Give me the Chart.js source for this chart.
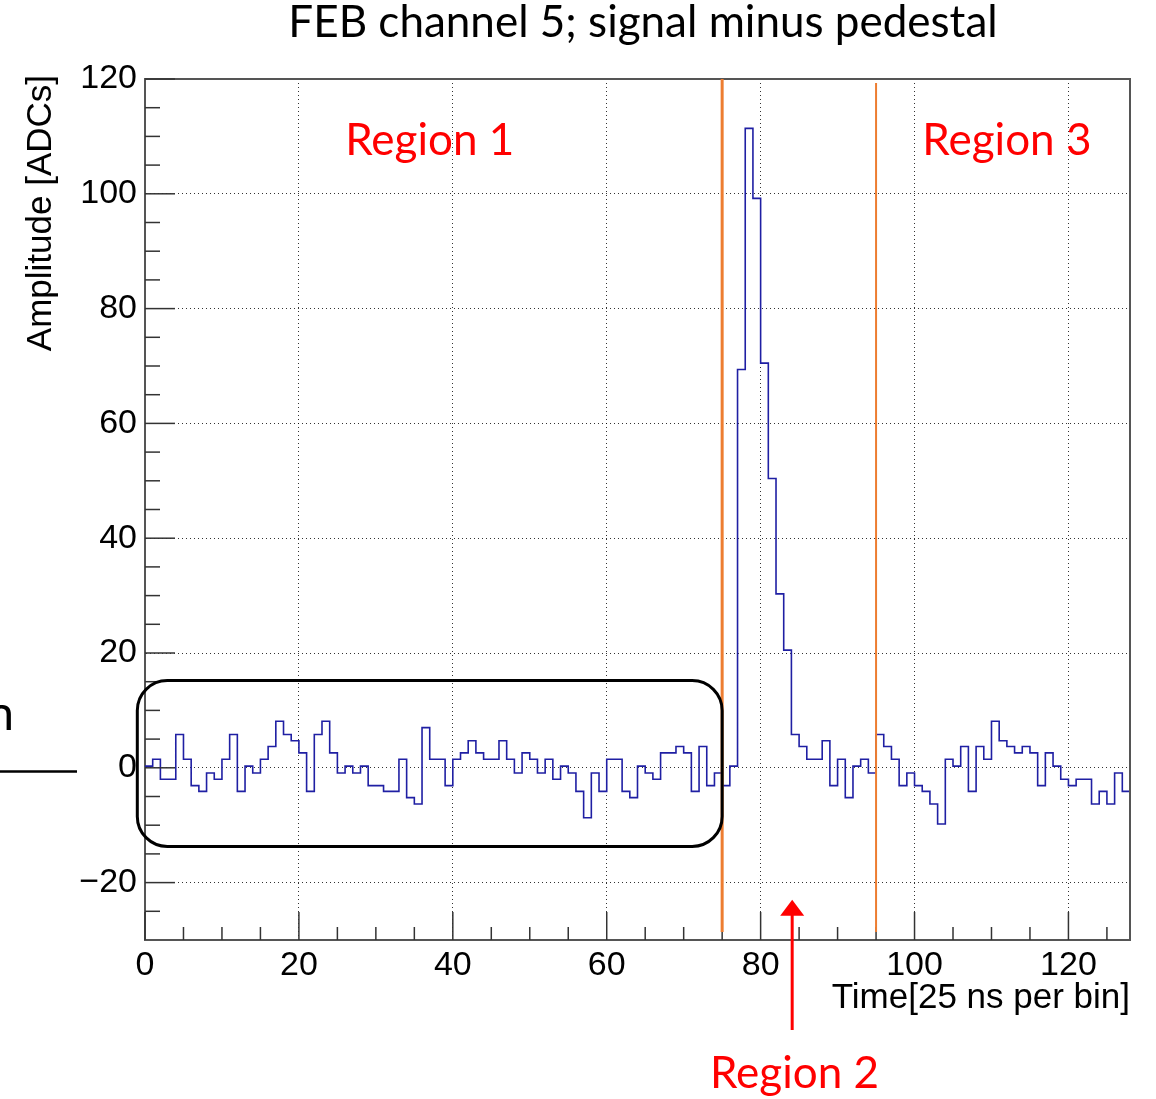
<!DOCTYPE html>
<html>
<head>
<meta charset="utf-8">
<title>FEB channel 5</title>
<script src="https://cdn.jsdelivr.net/npm/chart.js@4.4.1/dist/chart.umd.min.js"></script>
<style>
  html, body { margin: 0; padding: 0; background: #fff; }
  canvas { display: block; }
</style>
</head>
<body>
<canvas id="signalChart" width="1156" height="1099"></canvas>
<script>
// signal minus pedestal, one value per 25 ns bin (128 bins)
const binValues = [
   0.3,  1.5, -2.0, -2.0,  5.8,  1.5, -3.1, -4.1, -0.9, -2.0,
   1.5,  5.8, -4.1,  0.3, -0.9,  1.5,  3.7,  8.1,  5.8,  4.7,
   2.6, -4.1,  5.8,  8.1,  2.6, -0.9,  0.3, -0.9,  0.3, -3.1,
  -3.1, -4.1, -4.1,  1.5, -5.2, -6.3,  7.0,  1.5,  1.5, -3.1,
   1.5,  2.6,  4.7,  2.6,  1.5,  1.5,  4.7,  1.5, -0.9,  2.6,
   1.5, -0.9,  1.5, -2.0,  0.3, -0.9, -4.1, -8.7, -0.9, -4.1,
   1.5,  1.5, -4.1, -5.2,  0.3, -0.9, -2.0,  2.6,  2.6,  3.7,
   2.6, -4.1,  3.7, -3.1, -0.9, -3.1,  0.3, 69.4, 111.4, 99.2,
  70.5, 50.4, 30.3, 20.5,  5.8,  3.7,  1.5,  1.5,  4.7, -3.1,
   1.5, -5.2,  0.3,  1.5, -0.9,  5.8,  3.7,  1.5, -3.1, -0.9,
  -3.1, -4.1, -6.3, -9.8,  1.5,  0.3,  3.7, -4.1,  3.7,  1.5,
   8.1,  4.7,  3.7,  2.6,  3.7,  2.6, -3.1,  2.6,  0.3, -2.0,
  -3.1, -2.0, -2.0, -6.3, -4.1, -6.3, -0.9, -4.1
];
const xTickValues = [0, 20, 40, 60, 80, 100, 120];
const yTickValues = [-20, 0, 20, 40, 60, 80, 100, 120];
const xRange = [0, 128];
const yRange = [-30, 120];
const minorStep = 5;
const majorStep = 20;
const regionNames = ['Region 1', 'Region 2', 'Region 3'];
const regionEdges = [75, 95];

const axisFont = 'Liberation Sans, Arial, sans-serif';
const noteFont = 'Lato, "Open Sans", sans-serif';

// histogram outline: each bin drawn flat from its left edge to the next one
const histPoints = binValues.map((v, i) => ({ x: i, y: v }));
histPoints.push({ x: binValues.length, y: binValues[binValues.length - 1] });

function strokeLine(ctx, x1, y1, x2, y2) {
  ctx.beginPath();
  ctx.moveTo(x1, y1);
  ctx.lineTo(x2, y2);
  ctx.stroke();
}

const overlay = {
  id: 'overlay',
  afterDraw(chart) {
    const { ctx, chartArea: a, scales: { x, y } } = chart;
    ctx.save();

    // frame on top and right
    ctx.strokeStyle = '#555';
    ctx.lineWidth = 2;
    ctx.beginPath();
    ctx.moveTo(a.left, a.top);
    ctx.lineTo(a.right, a.top);
    ctx.lineTo(a.right, a.bottom);
    ctx.stroke();

    // inside ticks, long ones on the labelled values
    ctx.lineWidth = 1.5;
    ctx.strokeStyle = '#333';
    for (let v = xRange[0]; v <= xRange[1]; v += minorStep) {
      const px = x.getPixelForValue(v);
      strokeLine(ctx, px, a.bottom, px, a.bottom - (v % majorStep === 0 ? 28 : 13));
    }
    for (let v = yRange[0] + minorStep; v <= yRange[1]; v += minorStep) {
      const py = y.getPixelForValue(v);
      strokeLine(ctx, a.left, py, a.left + (v % majorStep === 0 ? 30 : 15), py);
    }

    // region borders
    ctx.strokeStyle = '#ED7D31';
    ctx.lineWidth = 3;
    let px = x.getPixelForValue(regionEdges[0]);
    strokeLine(ctx, px, a.top, px, a.bottom - 8);
    ctx.lineWidth = 2;
    px = x.getPixelForValue(regionEdges[1]);
    strokeLine(ctx, px, a.top + 4, px, a.bottom - 8);

    // rounded box round the first region
    const bx0 = x.getPixelForValue(-1), bx1 = x.getPixelForValue(regionEdges[0]);
    const by0 = y.getPixelForValue(15.2), by1 = y.getPixelForValue(-13.7);
    ctx.strokeStyle = '#000';
    ctx.lineWidth = 3;
    ctx.beginPath();
    ctx.roundRect(bx0, by0, bx1 - bx0, by1 - by0, 30);
    ctx.stroke();

    // marker line on the left
    ctx.lineWidth = 2.5;
    strokeLine(ctx, 0, 771.5, 77, 771.5);
    ctx.fillStyle = '#000';
    ctx.font = '48px ' + noteFont;
    ctx.textAlign = 'right';
    ctx.textBaseline = 'alphabetic';
    ctx.fillText('n', 14, 730);

    // axis titles
    ctx.font = '35px ' + axisFont;
    ctx.textAlign = 'right';
    ctx.fillText('Time[25 ns per bin]', a.right, 1008);
    ctx.save();
    ctx.translate(51, a.top - 4);
    ctx.rotate(-Math.PI / 2);
    ctx.fillText('Amplitude [ADCs]', 0, 0);
    ctx.restore();

    // chart title
    ctx.font = '44px ' + noteFont;
    ctx.textAlign = 'center';
    ctx.fillText('FEB channel 5; signal minus pedestal', 643, 37);

    // region labels
    ctx.fillStyle = '#FF0000';
    ctx.fillText(regionNames[0], x.getPixelForValue(37), 155);
    ctx.fillText(regionNames[2], x.getPixelForValue(112), 155);
    ctx.fillText(regionNames[1], x.getPixelForValue(84.4), 1088);

    // arrow pointing at the second region
    const ax = x.getPixelForValue(84.1);
    const tipY = y.getPixelForValue(-23);
    ctx.strokeStyle = '#FF0000';
    ctx.lineWidth = 3;
    strokeLine(ctx, ax, 1030, ax, tipY + 12);
    ctx.beginPath();
    ctx.moveTo(ax, tipY);
    ctx.lineTo(ax - 12, tipY + 16);
    ctx.lineTo(ax + 12, tipY + 16);
    ctx.closePath();
    ctx.fill();

    ctx.restore();
  }
};

new Chart(document.getElementById('signalChart'), {
  type: 'line',
  data: {
    datasets: [{
      data: histPoints,
      stepped: 'before',
      borderColor: '#1f1fa3',
      borderWidth: 1.6,
      pointRadius: 0,
      fill: false
    }]
  },
  options: {
    responsive: false,
    animation: false,
    layout: { padding: { top: 79, right: 26, bottom: 0, left: 0 } },
    plugins: {
      legend: { display: false },
      tooltip: { enabled: false }
    },
    scales: {
      x: {
        type: 'linear',
        min: xRange[0],
        max: xRange[1],
        afterBuildTicks: s => { s.ticks = xTickValues.map(v => ({ value: v })); },
        afterFit: s => { s.height = 159; },
        ticks: {
          font: { family: axisFont, size: 34 },
          color: '#000',
          padding: 5,
          maxRotation: 0,
          autoSkip: false
        },
        grid: { color: 'rgba(0,0,0,0.8)', lineWidth: 1, drawTicks: false },
        border: { color: '#555', width: 2, dash: [1, 3] }
      },
      y: {
        type: 'linear',
        min: yRange[0],
        max: yRange[1],
        afterBuildTicks: s => { s.ticks = yTickValues.map(v => ({ value: v })); },
        afterFit: s => { s.width = 145; },
        ticks: {
          font: { family: axisFont, size: 34 },
          color: '#000',
          padding: 8,
          callback: v => (v < 0 ? '\u2212' + Math.abs(v) : String(v))
        },
        grid: { color: 'rgba(0,0,0,0.8)', lineWidth: 1, drawTicks: false },
        border: { color: '#555', width: 2, dash: [1, 3] }
      }
    }
  },
  plugins: [overlay]
});
</script>
</body>
</html>
